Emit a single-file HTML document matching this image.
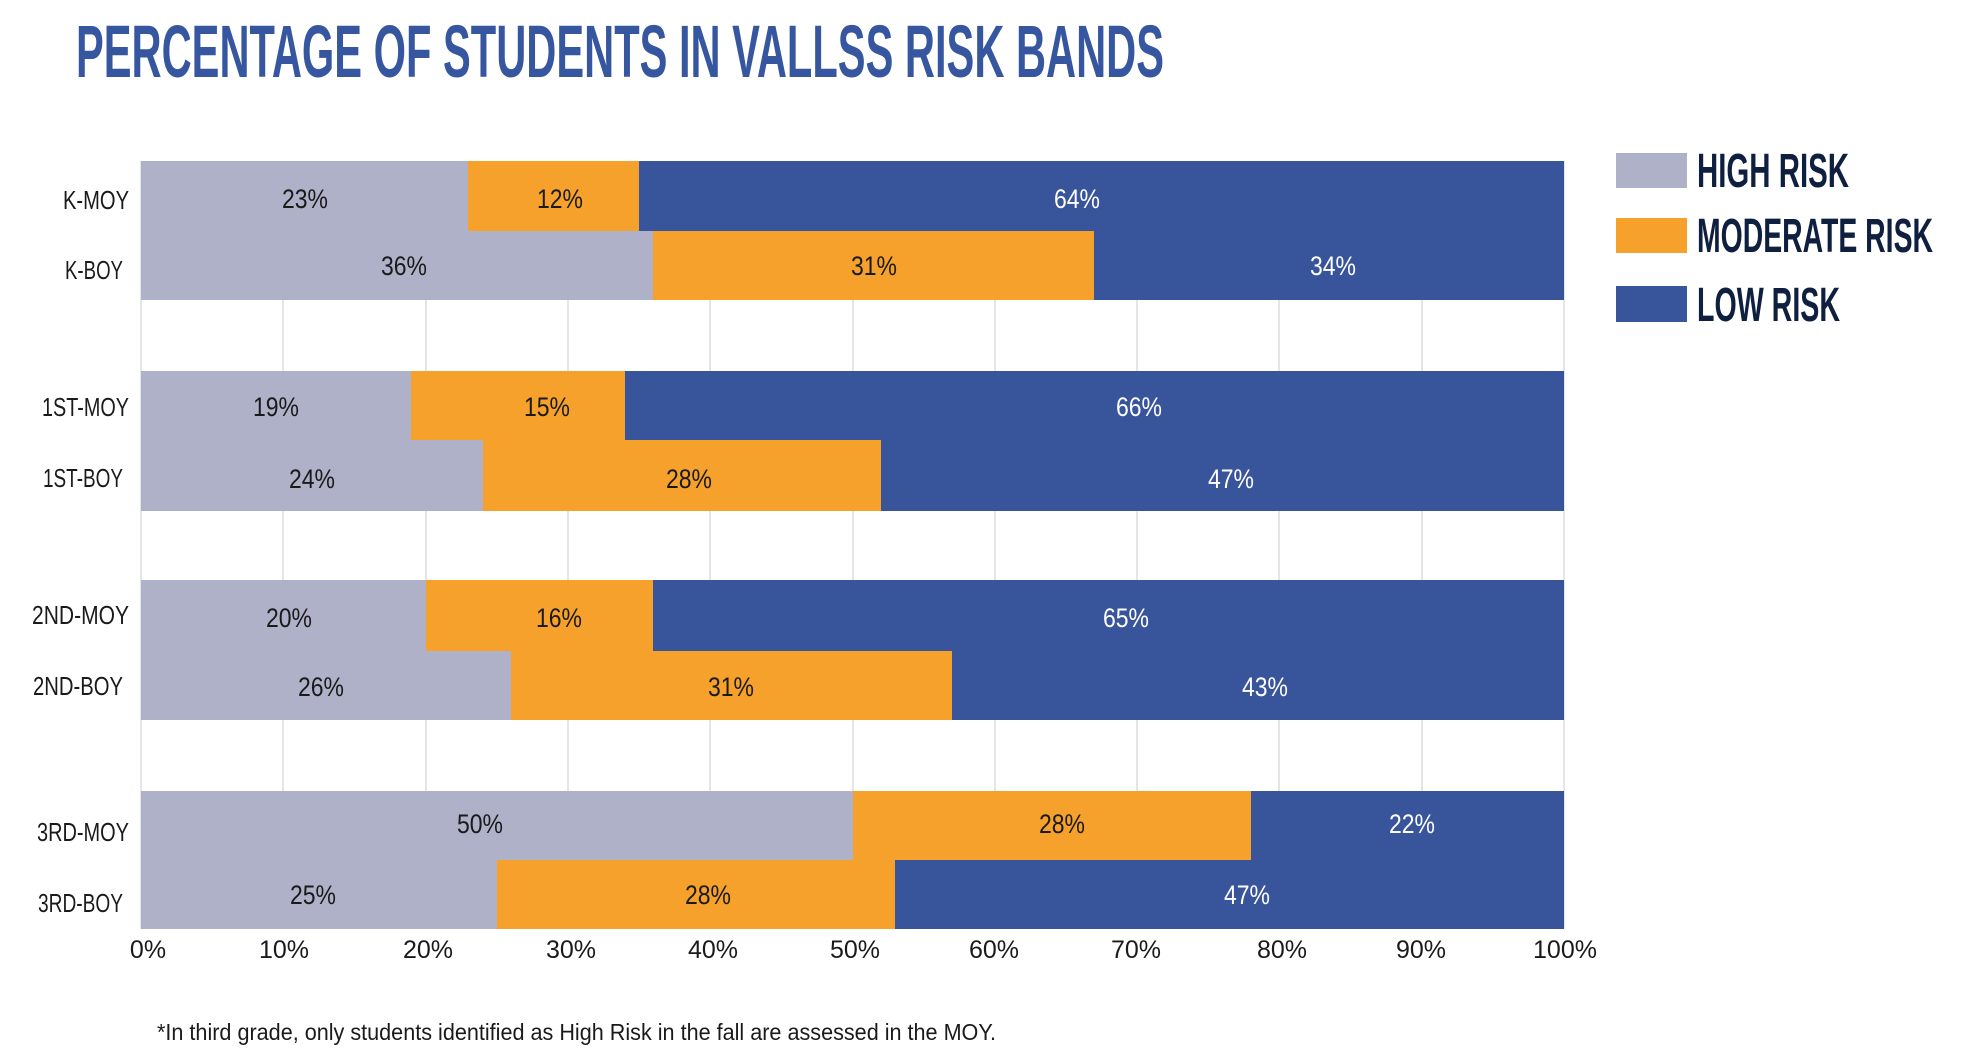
<!DOCTYPE html>
<html><head><meta charset="utf-8"><style>
html,body{margin:0;padding:0;background:#fff;}
svg{display:block;}
text{font-family:"Liberation Sans",sans-serif;}
</style></head><body>
<svg width="1967" height="1054" viewBox="0 0 1967 1054" xmlns="http://www.w3.org/2000/svg">
<rect width="1967" height="1054" fill="#fff"/>
<text x="76" y="77" font-size="74" font-weight="bold" fill="#3657a0" textLength="1088" lengthAdjust="spacingAndGlyphs">PERCENTAGE OF STUDENTS IN VALLSS RISK BANDS</text>
<g stroke="#dcdce2" stroke-width="1.5">
<line x1="283" y1="161" x2="283" y2="929"/><line x1="426" y1="161" x2="426" y2="929"/>
<line x1="568" y1="161" x2="568" y2="929"/><line x1="710" y1="161" x2="710" y2="929"/>
<line x1="853" y1="161" x2="853" y2="929"/><line x1="995" y1="161" x2="995" y2="929"/>
<line x1="1137" y1="161" x2="1137" y2="929"/><line x1="1279" y1="161" x2="1279" y2="929"/>
<line x1="1422" y1="161" x2="1422" y2="929"/><line x1="1564" y1="161" x2="1564" y2="929"/>
<line x1="141" y1="161" x2="141" y2="929"/>
</g>
<g>
<rect x="141" y="161" width="327" height="70" fill="#afb1c9"/><rect x="468" y="161" width="171" height="70" fill="#f5a12b"/><rect x="639" y="161" width="925" height="70" fill="#38549a"/>
<rect x="141" y="231" width="512" height="69" fill="#afb1c9"/><rect x="653" y="231" width="441" height="69" fill="#f5a12b"/><rect x="1094" y="231" width="470" height="69" fill="#38549a"/>
<rect x="141" y="371" width="270" height="69" fill="#afb1c9"/><rect x="411" y="371" width="214" height="69" fill="#f5a12b"/><rect x="625" y="371" width="939" height="69" fill="#38549a"/>
<rect x="141" y="440" width="342" height="71" fill="#afb1c9"/><rect x="483" y="440" width="398" height="71" fill="#f5a12b"/><rect x="881" y="440" width="683" height="71" fill="#38549a"/>
<rect x="141" y="580" width="285" height="71" fill="#afb1c9"/><rect x="426" y="580" width="227" height="71" fill="#f5a12b"/><rect x="653" y="580" width="911" height="71" fill="#38549a"/>
<rect x="141" y="651" width="370" height="69" fill="#afb1c9"/><rect x="511" y="651" width="441" height="69" fill="#f5a12b"/><rect x="952" y="651" width="612" height="69" fill="#38549a"/>
<rect x="141" y="791" width="712" height="69" fill="#afb1c9"/><rect x="853" y="791" width="398" height="69" fill="#f5a12b"/><rect x="1251" y="791" width="313" height="69" fill="#38549a"/>
<rect x="141" y="860" width="356" height="69" fill="#afb1c9"/><rect x="497" y="860" width="398" height="69" fill="#f5a12b"/><rect x="895" y="860" width="669" height="69" fill="#38549a"/>
</g>
<g font-size="27" text-anchor="middle" fill="#1a1a1a">
<text x="305" y="208" textLength="46" lengthAdjust="spacingAndGlyphs">23%</text><text x="560" y="208" textLength="46" lengthAdjust="spacingAndGlyphs">12%</text><text x="1077" y="208" fill="#fff" textLength="46" lengthAdjust="spacingAndGlyphs">64%</text>
<text x="404" y="275" textLength="46" lengthAdjust="spacingAndGlyphs">36%</text><text x="874" y="275" textLength="46" lengthAdjust="spacingAndGlyphs">31%</text><text x="1333" y="275" fill="#fff" textLength="46" lengthAdjust="spacingAndGlyphs">34%</text>
<text x="276" y="416" textLength="46" lengthAdjust="spacingAndGlyphs">19%</text><text x="547" y="416" textLength="46" lengthAdjust="spacingAndGlyphs">15%</text><text x="1139" y="416" fill="#fff" textLength="46" lengthAdjust="spacingAndGlyphs">66%</text>
<text x="312" y="488" textLength="46" lengthAdjust="spacingAndGlyphs">24%</text><text x="689" y="488" textLength="46" lengthAdjust="spacingAndGlyphs">28%</text><text x="1231" y="488" fill="#fff" textLength="46" lengthAdjust="spacingAndGlyphs">47%</text>
<text x="289" y="627" textLength="46" lengthAdjust="spacingAndGlyphs">20%</text><text x="559" y="627" textLength="46" lengthAdjust="spacingAndGlyphs">16%</text><text x="1126" y="627" fill="#fff" textLength="46" lengthAdjust="spacingAndGlyphs">65%</text>
<text x="321" y="696" textLength="46" lengthAdjust="spacingAndGlyphs">26%</text><text x="731" y="696" textLength="46" lengthAdjust="spacingAndGlyphs">31%</text><text x="1265" y="696" fill="#fff" textLength="46" lengthAdjust="spacingAndGlyphs">43%</text>
<text x="480" y="833" textLength="46" lengthAdjust="spacingAndGlyphs">50%</text><text x="1062" y="833" textLength="46" lengthAdjust="spacingAndGlyphs">28%</text><text x="1412" y="833" fill="#fff" textLength="46" lengthAdjust="spacingAndGlyphs">22%</text>
<text x="313" y="904" textLength="46" lengthAdjust="spacingAndGlyphs">25%</text><text x="708" y="904" textLength="46" lengthAdjust="spacingAndGlyphs">28%</text><text x="1247" y="904" fill="#fff" textLength="46" lengthAdjust="spacingAndGlyphs">47%</text>
</g>
<g font-size="26" text-anchor="end" fill="#1a1a1a">
<text x="129" y="209" textLength="66" lengthAdjust="spacingAndGlyphs">K-MOY</text>
<text x="123" y="279" textLength="58" lengthAdjust="spacingAndGlyphs">K-BOY</text>
<text x="129" y="416" textLength="87" lengthAdjust="spacingAndGlyphs">1ST-MOY</text>
<text x="123" y="487" textLength="80" lengthAdjust="spacingAndGlyphs">1ST-BOY</text>
<text x="129" y="624" textLength="97" lengthAdjust="spacingAndGlyphs">2ND-MOY</text>
<text x="123" y="695" textLength="90" lengthAdjust="spacingAndGlyphs">2ND-BOY</text>
<text x="129" y="841" textLength="92" lengthAdjust="spacingAndGlyphs">3RD-MOY</text>
<text x="123" y="912" textLength="85" lengthAdjust="spacingAndGlyphs">3RD-BOY</text>
</g>
<g font-size="25" text-anchor="middle" fill="#1a1a1a">
<text x="148" y="958">0%</text><text x="284" y="958">10%</text><text x="428" y="958">20%</text>
<text x="571" y="958">30%</text><text x="713" y="958">40%</text><text x="855" y="958">50%</text>
<text x="994" y="958">60%</text><text x="1136" y="958">70%</text><text x="1282" y="958">80%</text>
<text x="1421" y="958">90%</text><text x="1565" y="958">100%</text>
</g>
<rect x="1616" y="153" width="71" height="35" fill="#afb1c9"/>
<rect x="1616" y="218" width="71" height="35" fill="#f5a12b"/>
<rect x="1616" y="286" width="71" height="36" fill="#38549a"/>
<g font-size="48" font-weight="bold" fill="#0f1f3f">
<text x="1697" y="187" textLength="152" lengthAdjust="spacingAndGlyphs">HIGH RISK</text>
<text x="1697" y="252" textLength="236" lengthAdjust="spacingAndGlyphs">MODERATE RISK</text>
<text x="1697" y="321" textLength="143" lengthAdjust="spacingAndGlyphs">LOW RISK</text>
</g>
<text x="157" y="1040" font-size="23" fill="#1a1a1a" textLength="839" lengthAdjust="spacingAndGlyphs">*In third grade, only students identified as High Risk in the fall are assessed in the MOY.</text>
</svg>
</body></html>
